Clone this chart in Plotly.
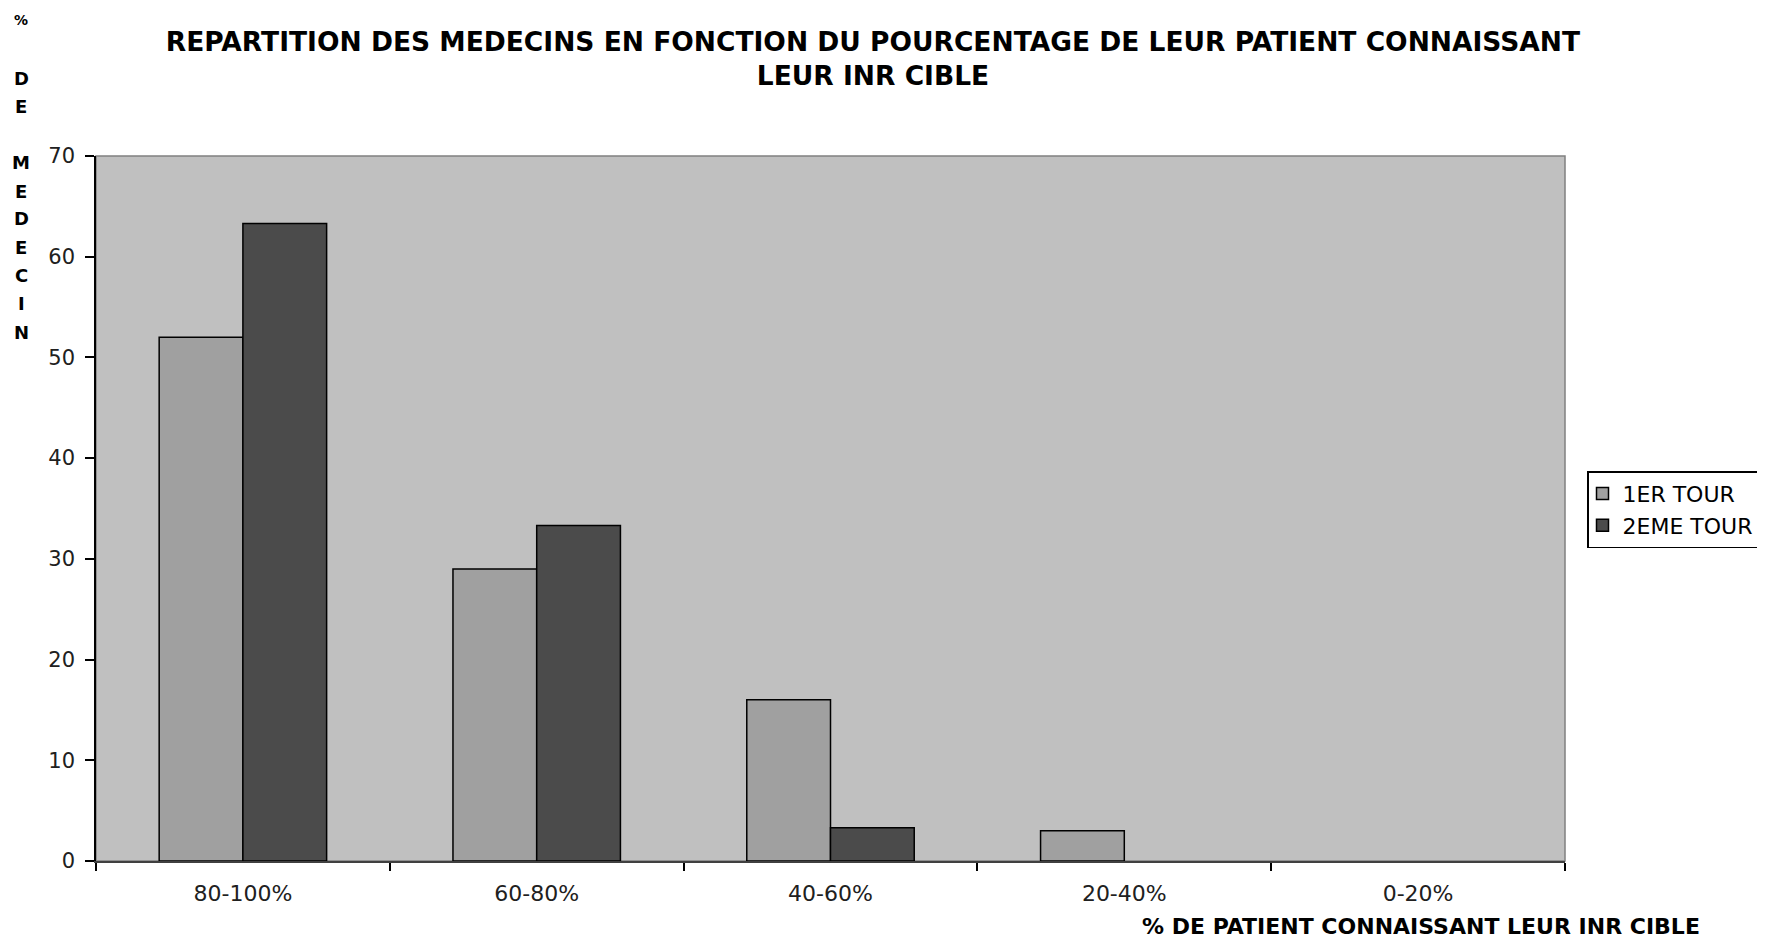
import plotly.graph_objects as go

categories = ["80-100%", "60-80%", "40-60%", "20-40%", "0-20%"]
tour1 = [52, 29, 16, 3, 0]
tour2 = [63.3, 33.3, 3.3, 0, 0]
series_names = ["1ER TOUR", "2EME TOUR"]
y_ticks = [0, 10, 20, 30, 40, 50, 60, 70]

# page body has an 8px margin, so the figure is a bit smaller
W, H = 1757, 933
L, R, T, B = 88, 200, 147.5, 80
PW, PH = W - L - R, H - T - B

FONT = "DejaVu Sans, Liberation Sans, Arial, sans-serif"


def outline(vals):
    return [1.5 if v > 0 else 0 for v in vals]


fig = go.Figure()
fig.add_trace(go.Bar(x=categories, y=tour1, name=series_names[0], legendgroup="a",
                     marker=dict(color="#A0A0A0", line=dict(color="#000000", width=outline(tour1)))))
fig.add_trace(go.Bar(x=categories, y=tour2, name=series_names[1], legendgroup="b",
                     marker=dict(color="#4B4B4B", line=dict(color="#000000", width=outline(tour2)))))

fig.update_layout(
    width=W, height=H,
    margin=dict(l=L, r=R, t=T, b=B, autoexpand=False),
    paper_bgcolor="white", plot_bgcolor="#C0C0C0",
    barmode="group", bargap=0.43, bargroupgap=0,
    font=dict(family=FONT, color="#000000", size=20),
    title=dict(text="<b>REPARTITION DES MEDECINS EN FONCTION DU POURCENTAGE DE LEUR PATIENT CONNAISSANT<br>LEUR INR CIBLE</b>",
               x=865 / W, xanchor="center", y=1 - 43 / H, yanchor="middle",
               font=dict(size=26.5, family=FONT, color="#000000")),
    legend=dict(x=(1579 - L) / PW, y=(H - B - 463) / PH,
                xanchor="left", yanchor="top", bgcolor="white", bordercolor="#000000", borderwidth=1.5,
                font=dict(size=22, color="#000000", family=FONT), itemwidth=30, indentation=-6,
                traceorder="grouped", tracegroupgap=0),
    showlegend=True,
)

fig.update_xaxes(
    showline=True, linecolor="#404040", linewidth=1.5, mirror=False,
    ticks="outside", tickson="boundaries", ticklen=8, tickcolor="#000000", tickwidth=1.5,
    tickfont=dict(size=22, color="#202020", family=FONT), showgrid=False, zeroline=False,
    ticklabelstandoff=12,
)
fig.update_yaxes(
    range=[0, 70], tickvals=y_ticks, showline=True, linecolor="#000000", linewidth=1.5,
    ticks="outside", ticklen=9, tickcolor="#000000", tickwidth=1.5,
    tickfont=dict(size=21, color="#202020", family=FONT), showgrid=False, zeroline=False,
    ticklabelstandoff=6,
)

# plot area border
fig.add_shape(type="rect", xref="paper", yref="paper", x0=0, x1=1, y0=0, y1=1,
              line=dict(color="#808080", width=1.5), layer="below")

# x axis title (bold, right side)
fig.add_annotation(text="<b>% DE PATIENT CONNAISSANT LEUR INR CIBLE</b>", xref="paper", yref="paper",
                   x=(1694 - L) / PW, xanchor="right", y=-(919 - (H - B)) / PH,
                   yanchor="middle", showarrow=False, font=dict(size=22, color="#000000", family=FONT))

# y axis title as stacked letters
letters = ["%", "D", "E", "M", "E", "D", "E", "C", "I", "N"]
ys = [19, 78, 106, 162, 191, 218, 247, 275, 303, 332]
for ch, yy in zip(letters, ys):
    fig.add_annotation(text="<b>" + ch + "</b>", xref="paper", yref="paper",
                       x=-(L - 13) / PW, xanchor="center",
                       y=((H - B) - (yy - 8)) / PH, yanchor="middle", showarrow=False,
                       font=dict(size=18 if ch != "%" else 14, color="#000000", family=FONT))

fig.write_html("out.html")
